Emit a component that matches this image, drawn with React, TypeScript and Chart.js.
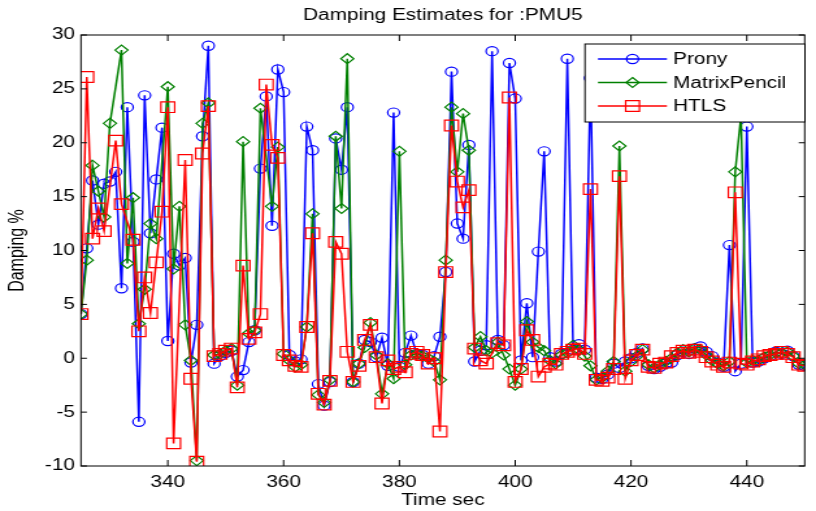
import { useEffect, useRef } from "react";
import { Chart, registerables } from "chart.js";

Chart.register(...registerables);

// Estimation window end times (s)
const timeSec = [
  325, 326, 327, 328, 329, 330, 331, 332, 333, 334,
  335, 336, 337, 338, 339, 340, 341, 342, 343, 344,
  345, 346, 347, 348, 349, 350, 351, 352, 353, 354,
  355, 356, 357, 358, 359, 360, 361, 362, 363, 364,
  365, 366, 367, 368, 369, 370, 371, 372, 373, 374,
  375, 376, 377, 378, 379, 380, 381, 382, 383, 384,
  385, 386, 387, 388, 389, 390, 391, 392, 393, 394,
  395, 396, 397, 398, 399, 400, 401, 402, 403, 404,
  405, 406, 407, 408, 409, 410, 411, 412, 413, 414,
  415, 416, 417, 418, 419, 420, 421, 422, 423, 424,
  425, 426, 427, 428, 429, 430, 431, 432, 433, 434,
  435, 436, 437, 438, 439, 440, 441, 442, 443, 444,
  445, 446, 447, 448, 449, 450,
];

// Damping ratio estimates (%) per method
const prony = [
  4.1, 10.2, 16.5, 12.4, 16.2, 16.4, 17.3, 6.5, 23.3, 10.8,
  -5.9, 24.4, 11.6, 16.6, 21.4, 1.6, 9.7, 8.6, 9.3, -0.4,
  3.1, 20.6, 29.0, -0.5, 0.2, 0.5, 0.7, -1.7, -1.1, 1.5,
  2.6, 17.6, 24.3, 12.3, 26.8, 24.7, 0.3, -0.3, -0.1, 21.5,
  19.3, -2.4, -4.4, -2.2, 20.4, 17.5, 23.3, -2.2, -0.5, 1.7,
  1.5, 0.1, 1.9, -0.7, 22.8, -0.8, 0.5, 2.1, 0.4, 0.3,
  -0.5, 0.2, 2.0, 8.0, 26.6, 12.5, 11.1, 19.8, -0.3, 0.7,
  1.2, 28.5, 1.7, 1.2, 27.4, 24.1, -0.2, 5.1, 0.1, 9.9,
  19.2, 0.1, -0.3, 0.4, 27.8, 0.8, 1.3, 0.8, 26.0, -1.8,
  -1.9, -1.5, -0.5, -0.9, -0.3, 0.0, 0.5, 0.9, -0.7, -1.0,
  -0.8, -0.5, -0.4, 0.3, 0.6, 0.4, 0.9, 1.1, 0.6, 0.2,
  -0.4, -0.8, 10.5, -1.2, -0.5, 21.5, -0.4, -0.3, 0.0, 0.2,
  0.6, 0.4, 0.7, 0.2, -0.6, -0.7,
];

const matrixPencil = [
  4.1, 9.1, 17.9, 15.5, 13.1, 21.8, null, 28.6, 8.8, 14.9,
  3.2, 6.4, 12.5, 11.1, null, 25.2, 8.3, 14.1, 3.1, -0.2,
  -9.5, 21.8, 23.7, 0.3, 0.4, 0.7, 0.9, -2.5, 20.1, 2.3,
  2.6, 23.2, null, 14.1, 19.6, 0.4, -0.2, -0.8, -0.6, 2.9,
  13.4, -3.4, -4.1, -2.0, 20.6, 13.9, 27.8, -2.2, -0.5, 1.0,
  3.3, 0.3, -3.3, -0.5, -1.9, 19.2, -0.6, 0.3, 0.4, 0.2,
  0.0, -0.3, -2.0, 9.1, 23.3, 17.3, 22.7, 19.3, 1.0, 2.0,
  0.7, 0.5, 1.5, 0.3, -1.0, -2.5, -1.0, 3.4, 1.5, 1.0,
  0.7, -0.2, -0.5, 0.3, 0.5, 1.2, 0.8, 0.2, -0.7, -2.0,
  -1.8, -1.2, -0.3, 19.7, -1.2, -0.3, 0.2, 0.8, -0.6, -0.9,
  -0.6, -0.3, 0.0, 0.5, 0.8, 0.6, 0.9, 0.8, 0.3, -0.2,
  -0.5, -0.7, -0.3, 17.3, 22.5, -0.4, -0.2, -0.2, 0.1, 0.3,
  0.5, 0.5, 0.6, 0.2, -0.5, -0.6,
];

const htls = [
  4.1, 26.1, 11.1, 13.9, 11.8, null, 20.2, 14.3, null, 11.0,
  2.5, 7.5, 4.2, 8.9, 13.6, 23.3, -7.9, null, 18.4, -1.9,
  -9.6, 19.0, 23.4, 0.2, 0.4, 0.7, 0.9, -2.7, 8.6, 1.8,
  2.4, 4.1, 25.4, 19.8, 18.6, 0.3, -0.2, -0.7, -0.8, 2.9,
  11.6, -3.3, -4.3, -2.1, 10.8, 9.7, 0.6, -2.2, -0.7, 1.7,
  3.1, 0.1, -4.2, -0.2, -1.0, -0.8, -1.3, 0.4, 0.6, 0.3,
  -0.5, 0.0, -6.8, 8.0, 21.6, 16.4, 14.0, 15.6, 0.9, -0.2,
  -0.5, null, 1.4, 1.2, 24.2, -2.2, -1.0, 2.6, 1.7, -1.7,
  -0.8, -0.5, -0.6, 0.4, 0.6, 0.8, 0.9, 0.4, 15.7, -2.0,
  -2.1, -1.8, -1.0, 16.9, -1.9, -0.2, 0.3, 0.8, -0.8, -0.9,
  -0.5, -0.4, 0.2, 0.5, 0.7, 0.5, 0.8, 0.6, 0.1, -0.3,
  -0.6, -0.8, -0.4, 15.4, -0.5, -0.6, -0.3, -0.1, 0.2, 0.3,
  0.4, 0.6, 0.4, 0.1, -0.6, -0.7,
];

const xTickValues = [340, 360, 380, 400, 420, 440];
const yTickValues = [-10, -5, 0, 5, 10, 15, 20, 25, 30];

const TITLE = "Damping Estimates for :PMU5";
const FONT = "'Liberation Sans', Arial, Helvetica, sans-serif";

// The figure is drawn on a narrower canvas and shown stretched to 816px wide.
const CANVAS_W = 628;
const CANVAS_H = 511;
const PLOT_LEFT = 62.3;
const PLOT_RIGHT = 626.4;
const PLOT_TOP = 35;
const X_AXIS_H = 45;

const CIRCLE_R = 4.6;
const DIAMOND_R = 5;
const SQUARE_R = 7.5;

type Marker = "circle" | "diamond" | "square";

function drawMarker(ctx: CanvasRenderingContext2D, kind: Marker, x: number, y: number, color: string) {
  ctx.save();
  ctx.strokeStyle = color;
  ctx.lineWidth = 1.2;
  ctx.beginPath();
  if (kind === "circle") {
    ctx.arc(x, y, CIRCLE_R, 0, Math.PI * 2);
  } else if (kind === "diamond") {
    ctx.moveTo(x, y - DIAMOND_R);
    ctx.lineTo(x + DIAMOND_R, y);
    ctx.lineTo(x, y + DIAMOND_R);
    ctx.lineTo(x - DIAMOND_R, y);
    ctx.closePath();
  } else {
    const h = SQUARE_R * Math.SQRT1_2;
    ctx.rect(x - h, y - h, 2 * h, 2 * h);
  }
  ctx.stroke();
  ctx.restore();
}

const seriesMarkers: Marker[] = ["circle", "diamond", "square"];

const axesFramePlugin = {
  id: "axesFrame",
  afterDatasetsDraw(chart: any) {
    const { ctx, chartArea: a, scales } = chart;
    const xs = scales.x;
    const ys = scales.y;
    ctx.save();
    ctx.strokeStyle = "#000";
    ctx.lineWidth = 1;
    ctx.strokeRect(a.left, a.top, a.right - a.left, a.bottom - a.top);
    ctx.beginPath();
    for (const v of xTickValues) {
      const px = xs.getPixelForValue(v);
      ctx.moveTo(px, a.bottom);
      ctx.lineTo(px, a.bottom - 6);
      ctx.moveTo(px, a.top);
      ctx.lineTo(px, a.top + 6);
    }
    for (const v of yTickValues) {
      const py = ys.getPixelForValue(v);
      ctx.moveTo(a.left, py);
      ctx.lineTo(a.left + 4.6, py);
      ctx.moveTo(a.right, py);
      ctx.lineTo(a.right - 4.6, py);
    }
    ctx.stroke();
    ctx.restore();
  },
};

const titleAndLegendPlugin = {
  id: "titleAndLegend",
  afterDraw(chart: any) {
    const { ctx, chartArea: a } = chart;
    ctx.save();
    ctx.fillStyle = "#000";
    ctx.font = `16px ${FONT}`;
    ctx.textAlign = "center";
    ctx.textBaseline = "middle";
    ctx.fillText(TITLE, (a.left + a.right) / 2, 16);

    // legend box in the upper right of the axes
    const bx = 450.2;
    const by = 44;
    const bw = 169.3;
    const bh = 78;
    ctx.fillStyle = "#fff";
    ctx.fillRect(bx, by, bw, bh);
    ctx.strokeStyle = "#000";
    ctx.lineWidth = 1;
    ctx.strokeRect(bx, by, bw, bh);

    chart.data.datasets.forEach((ds: any, i: number) => {
      const ry = 59 + i * 23.5;
      ctx.strokeStyle = ds.borderColor;
      ctx.lineWidth = 1.5;
      ctx.beginPath();
      ctx.moveTo(460.2, ry);
      ctx.lineTo(513.3, ry);
      ctx.stroke();
      drawMarker(ctx, seriesMarkers[i], 486.8, ry, ds.borderColor);
      ctx.fillStyle = "#000";
      ctx.textAlign = "left";
      ctx.textBaseline = "middle";
      ctx.fillText(ds.label, 518, ry + 1);
    });
    ctx.restore();
  },
};

function series(values: (number | null)[]) {
  return timeSec.map((t, i) => ({ x: t, y: values[i] }));
}

export default function App() {
  const canvasRef = useRef<HTMLCanvasElement | null>(null);

  useEffect(() => {
    const canvas = canvasRef.current;
    if (!canvas) return;
    const tickFont = { family: FONT, size: 16 };
    const common = {
      backgroundColor: "rgba(0,0,0,0)",
      pointBackgroundColor: "rgba(0,0,0,0)",
      pointBorderWidth: 1.2,
      pointHoverRadius: 0,
      borderWidth: 1.5,
      tension: 0,
      spanGaps: true,
      fill: false,
    };
    const chart = new Chart(canvas, {
      type: "line",
      data: {
        datasets: [
          {
            ...common,
            label: "Prony",
            data: series(prony),
            borderColor: "#0000ff",
            pointBorderColor: "#0000ff",
            pointStyle: "circle",
            pointRadius: CIRCLE_R,
            order: 2,
          },
          {
            ...common,
            label: "MatrixPencil",
            data: series(matrixPencil),
            borderColor: "#008000",
            pointBorderColor: "#008000",
            pointStyle: "rectRot",
            pointRadius: DIAMOND_R,
            order: 1,
          },
          {
            ...common,
            label: "HTLS",
            data: series(htls),
            borderColor: "#ff0000",
            pointBorderColor: "#ff0000",
            pointStyle: "rect",
            pointRadius: SQUARE_R,
            order: 0,
          },
        ] as any,
      },
      options: {
        animation: false,
        responsive: false,
        devicePixelRatio: 1,
        events: [],
        layout: {
          padding: { top: PLOT_TOP, right: CANVAS_W - PLOT_RIGHT, bottom: 0, left: 0 },
        },
        plugins: {
          legend: { display: false },
          title: { display: false },
          tooltip: { enabled: false },
        },
        scales: {
          x: {
            type: "linear",
            min: 325,
            max: 450,
            afterBuildTicks: (s: any) => {
              s.ticks = xTickValues.map((v) => ({ value: v }));
            },
            afterFit: (s: any) => {
              s.height = X_AXIS_H;
            },
            grid: { display: false, drawTicks: false },
            border: { display: false },
            ticks: {
              padding: 7,
              color: "#000",
              font: tickFont,
              maxRotation: 0,
              autoSkip: false,
              callback: (v: any) => String(v),
            },
            title: {
              display: true,
              text: "Time sec",
              color: "#000",
              font: tickFont,
              padding: { top: 0, bottom: 1 },
            },
          },
          y: {
            type: "linear",
            min: -10,
            max: 30,
            afterBuildTicks: (s: any) => {
              s.ticks = yTickValues.map((v) => ({ value: v }));
            },
            afterFit: (s: any) => {
              s.width = PLOT_LEFT;
            },
            grid: { display: false, drawTicks: false },
            border: { display: false },
            ticks: {
              padding: 4.6,
              color: "#000",
              font: tickFont,
              autoSkip: false,
              callback: (v: any) => String(v),
            },
            title: {
              display: true,
              text: "Damping %",
              color: "#000",
              font: tickFont,
              padding: { top: 4, bottom: 0 },
            },
          },
        },
      } as any,
      plugins: [axesFramePlugin, titleAndLegendPlugin],
    });
    return () => chart.destroy();
  }, []);

  return (
    <div
      style={{
        position: "absolute",
        left: 0,
        top: 0,
        width: 816,
        height: 511,
        background: "#fff",
      }}
    >
      <canvas
        ref={canvasRef}
        width={CANVAS_W}
        height={CANVAS_H}
        style={{ width: "816px", height: "511px", display: "block" }}
      />
    </div>
  );
}
